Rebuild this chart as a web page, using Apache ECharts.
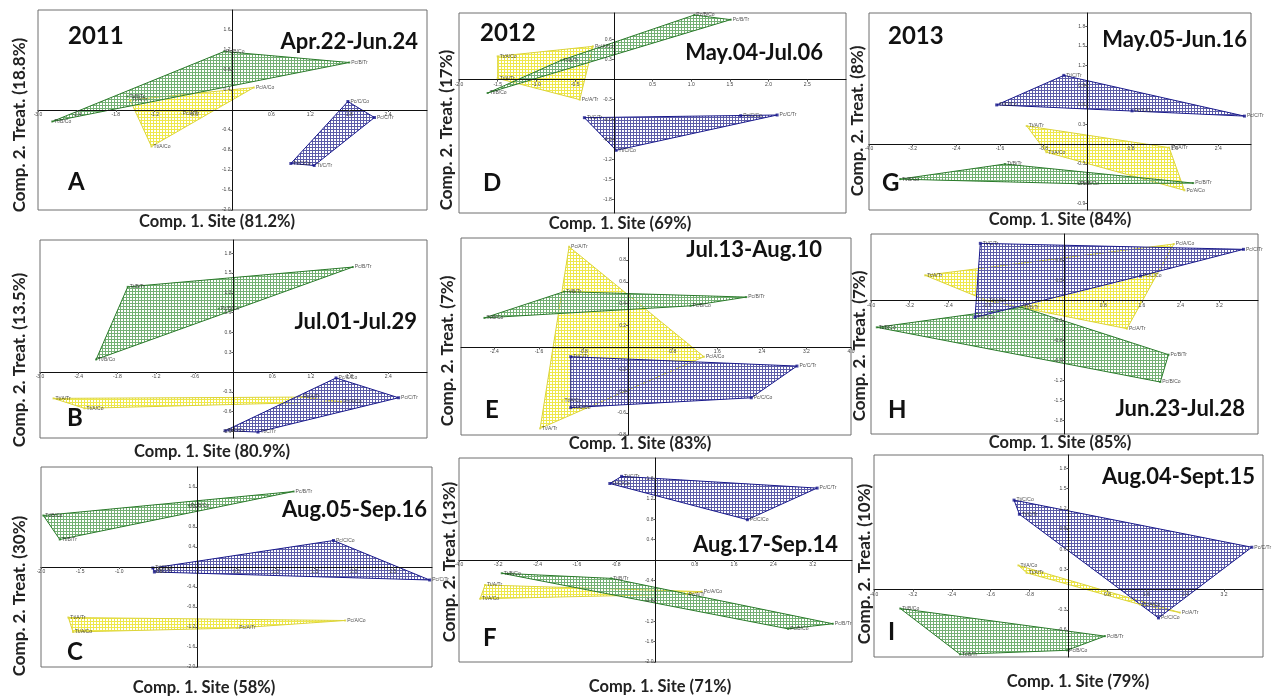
<!DOCTYPE html>
<html><head><meta charset="utf-8">
<script src="https://cdn.jsdelivr.net/npm/echarts@6/dist/echarts.min.js"></script>
<style>html,body{margin:0;padding:0;background:#fff}#c{width:1272px;height:698px}</style>
</head><body><div id="c"></div>
<script>
// ---------------- DATA ----------------
const panelIds = ['A','B','C','D','E','F','G','H','I'];
const yearLabels = ['2011','','','2012','','','2013','',''];
const periodLabels = ['Apr.22-Jun.24','Jul.01-Jul.29','Aug.05-Sep.16','May.04-Jul.06','Jul.13-Aug.10','Aug.17-Sep.14','May.05-Jun.16','Jun.23-Jul.28','Aug.04-Sept.15'];
const siteVar = ['81.2%','80.9%','58%','69%','83%','71%','84%','85%','79%'];
const treatVar = ['18.8%','13.5%','30%','17%','7%','13%','8%','7%','10%'];
const xRange = [[-3,3],[-3,3],[-2,3],[-2,3],[-3,4],[-4,4],[-4,3],[-4,4],[-4,4]];
const yRange = [[-2,2],[-1,2],[-2,2],[-2,1],[-0.8,1],[-2,2],[-1,2],[-2,1],[-1,2]];
const xTicks = [
  [-3.0,-2.4,-1.8,-1.2,-0.6,0.6,1.2,1.8,2.4],
  [-3.0,-2.4,-1.8,-1.2,-0.6,0.6,1.2,1.8,2.4],
  [-2.0,-1.5,-1.0,-0.5,0.5,1.0,1.5,2.0,2.5],
  [-2.0,-1.5,-1.0,-0.5,0.5,1.0,1.5,2.0,2.5],
  [-2.4,-1.6,-0.8,0.8,1.6,2.4,3.2,4.0],
  [-4.0,-3.2,-2.4,-1.6,-0.8,0.8,1.6,2.4,3.2],
  [-4.0,-3.2,-2.4,-1.6,-0.8,0.8,1.6,2.4],
  [-4.0,-3.2,-2.4,-1.6,-0.8,0.8,1.6,2.4,3.2],
  [-4.0,-3.2,-2.4,-1.6,-0.8,0.8,1.6,2.4,3.2]
];
const yTicks = [
  [1.6,1.2,0.8,0.4,-0.4,-0.8,-1.2,-1.6,-2.0],
  [1.8,1.5,1.2,0.9,0.6,0.3,-0.3,-0.6,-0.9],
  [1.6,1.2,0.8,0.4,-0.4,-0.8,-1.2,-1.6,-2.0],
  [0.6,0.3,-0.3,-0.6,-0.9,-1.2,-1.5,-1.8],
  [0.8,0.6,0.4,0.2,-0.2,-0.4,-0.6,-0.8],
  [1.6,1.2,0.8,0.4,-0.4,-0.8,-1.2,-1.6,-2.0],
  [1.8,1.5,1.2,0.9,0.6,0.3,-0.3,-0.6,-0.9],
  [0.6,0.3,-0.3,-0.6,-0.9,-1.2,-1.5,-1.8],
  [1.8,1.5,1.2,0.9,0.6,0.3,-0.3,-0.6]
];
// point order in every group: Tt/?/Co, Tt/?/Tr, Pc/?/Co, Pc/?/Tr
const pointNames = ['Tt/{g}/Co','Tt/{g}/Tr','Pc/{g}/Co','Pc/{g}/Tr'];
const groupNames = ['A','B','C'];
// Panel A (2011, Apr.22-Jun.24)
const A_grpA = [[-1.25,-0.73],[-1.58,0.20],[0.33,0.45],[-0.80,-0.08]];
const A_grpB = [[-2.78,-0.23],[-1.62,0.27],[-0.13,1.17],[1.80,0.95]];
const A_grpC = [[0.90,-1.07],[1.26,-1.11],[1.78,0.17],[2.19,-0.15]];
// Panel B (2011, Jul.01-Jul.29)
const B_grpA = [[-2.31,-0.55],[-2.79,-0.40],[1.67,-0.45],[1.05,-0.38]];
const B_grpB = [[-2.13,0.19],[-1.64,1.29],[-0.23,0.96],[1.85,1.59]];
const B_grpC = [[-0.13,-0.89],[0.38,-0.91],[1.59,-0.09],[2.56,-0.39]];
// Panel C (2011, Aug.05-Sep.16)
const C_grpA = [[-1.59,-1.30],[-1.65,-1.01],[1.89,-1.07],[0.51,-1.22]];
const C_grpB = [[-1.97,1.03],[-1.76,0.55],[-0.11,1.23],[1.23,1.51]];
const C_grpC = [[-0.57,-0.02],[-0.55,-0.10],[1.74,0.53],[2.97,-0.26]];
// Panel D (2012, May.04-Jul.06)
const D_grpA = [[-1.50,0.35],[-1.50,0.02],[-0.27,0.50],[-0.44,-0.30]];
const D_grpB = [[-1.63,-0.20],[-0.68,0.29],[1.04,0.97],[1.51,0.90]];
const D_grpC = [[0.03,-1.06],[-0.38,-0.57],[1.64,-0.54],[2.11,-0.53]];
// Panel E (2012, Jul.13-Aug.10)
const E_grpA = [[-1.18,-0.49],[-1.58,-0.74],[1.36,-0.085],[-1.06,0.92]];
const E_grpB = [[-2.58,0.27],[-1.15,0.51],[1.12,0.38],[2.12,0.46]];
const E_grpC = [[-1.03,-0.55],[-1.03,-0.085],[2.21,-0.46],[3.03,-0.17]];
// Panel F (2012, Aug.17-Sep.14)
const F_grpA = [[-3.57,-0.76],[-3.47,-0.49],[0.94,-0.62],[0.63,-0.67]];
const F_grpB = [[-3.13,-0.26],[-0.90,-0.36],[2.70,-1.35],[3.61,-1.25]];
const F_grpC = [[-0.93,1.50],[-0.69,1.64],[1.87,0.79],[3.29,1.41]];
// Panel G (2013, May.05-Jun.16)
const G_grpA = [[-0.75,-0.12],[-1.11,0.28],[1.78,-0.70],[1.50,-0.05]];
const G_grpB = [[-3.43,-0.53],[-1.51,-0.30],[-0.16,-0.60],[1.94,-0.59]];
const G_grpC = [[-1.66,0.60],[-0.43,1.05],[0.82,0.51],[2.88,0.43]];
// Panel H (2013, Jun.23-Jul.28)
const H_grpA = [[-1.60,0.00],[-2.88,0.38],[2.26,0.85],[1.29,-0.42]];
const H_grpB = [[-3.88,-0.40],[-0.88,-0.10],[1.98,-1.22],[2.15,-0.81]];
const H_grpC = [[-1.85,-0.25],[-1.74,0.86],[1.57,0.37],[3.70,0.77]];
// Panel I (2013, Aug.04-Sept.15)
const I_grpA = [[-1.03,0.36],[-0.86,0.25],[1.47,-0.22],[2.29,-0.34]];
const I_grpB = [[-3.46,-0.28],[-2.23,-0.96],[-0.03,-0.90],[0.75,-0.69]];
const I_grpC = [[-1.12,1.33],[-1.01,1.12],[1.85,-0.42],[3.77,0.63]];

const panelGroups = [
  [A_grpA,A_grpB,A_grpC],[B_grpA,B_grpB,B_grpC],[C_grpA,C_grpB,C_grpC],
  [D_grpA,D_grpB,D_grpC],[E_grpA,E_grpB,E_grpC],[F_grpA,F_grpB,F_grpC],
  [G_grpA,G_grpB,G_grpC],[H_grpA,H_grpB,H_grpC],[I_grpA,I_grpB,I_grpC]
];

// ---------------- LAYOUT / STYLE ----------------
const boxes = [ // left, top, width, height
  [38,10,389,200],[40,240,387,198],[41,467,391,200],
  [459,13,387,200],[461,238,390,197],[459,458,393,204],
  [869,13,382,197],[871,234,387,200],[874,455,389,202]
];
const yearPos = [[68,36],null,null,[480,33],null,null,[888,36],null,null];
const periodPos = [[418,42],[417,322],[427,510],[823,53],[822,250],[838,545],[1247,40],[1245,409],[1255,477]];
const letterPos = [[68,182],[67,418],[67,652],[483,183],[485,410],[483,638],[882,183],[888,410],[888,632]];
const xTitlePos = [[217,222],[212,452],[204,688],[620,224],[640,444],[660,687],[1060,220],[1060,443],[1078,682]];
const yTitlePos = [[20,125],[20,360],[20,596],[447,130],[448,351],[450,562],[858,121],[860,346],[865,564]];

const lineColors = ['#dcd43a','#2a7a2a','#1a1a8c'];
const patternColors = ['#eee84a','#74b074','#5c5ca8'];

function makePattern(color){
  const c = document.createElement('canvas');
  c.width = 3; c.height = 3;
  const ctx = c.getContext('2d');
  ctx.fillStyle = color;
  ctx.fillRect(0,0,3,1);
  ctx.fillRect(0,0,1,3);
  return {image: c, repeat: 'repeat'};
}
const patterns = patternColors.map(makePattern);

function hull(pts){
  const p = pts.map(q=>q.slice()).sort((a,b)=>a[0]-b[0]||a[1]-b[1]);
  const cross=(o,a,b)=>(a[0]-o[0])*(b[1]-o[1])-(a[1]-o[1])*(b[0]-o[0]);
  const lo=[],up=[];
  for(const q of p){while(lo.length>=2&&cross(lo[lo.length-2],lo[lo.length-1],q)<=0)lo.pop();lo.push(q);}
  for(let i=p.length-1;i>=0;i--){const q=p[i];while(up.length>=2&&cross(up[up.length-2],up[up.length-1],q)<=0)up.pop();up.push(q);}
  lo.pop();up.pop();return lo.concat(up);
}

const grids=[],xAxes=[],yAxes=[],series=[],graphics=[];
const FONT = 'Lato, "Open Sans", sans-serif';
panelIds.forEach((id,i)=>{
  const b = boxes[i];
  grids.push({left:b[0],top:b[1],width:b[2],height:b[3],show:true,borderColor:'#6e6e6e',borderWidth:1,backgroundColor:'transparent'});
  const lab = {fontSize:5,color:'#444',margin:2,formatter:v=>v.toFixed(1),fontFamily:'Arial',hideOverlap:false};
  // place the axes on the zero lines (axes cross at the origin)
  const xOff = -((0 - yRange[i][0])/(yRange[i][1]-yRange[i][0]))*b[3];
  const yOff = -((0 - xRange[i][0])/(xRange[i][1]-xRange[i][0]))*b[2];
  xAxes.push({type:'value',gridIndex:i,min:xRange[i][0],max:xRange[i][1],position:'bottom',offset:xOff,zlevel:1,z:10,
    axisLine:{onZero:false,lineStyle:{color:'#111',width:1}},
    axisTick:{show:true,length:2,customValues:xTicks[i],lineStyle:{color:'#555'}},
    axisLabel:Object.assign({customValues:xTicks[i]},lab),splitLine:{show:false}});
  yAxes.push({type:'value',gridIndex:i,min:yRange[i][0],max:yRange[i][1],position:'left',offset:yOff,zlevel:1,z:10,
    axisLine:{onZero:false,lineStyle:{color:'#111',width:1}},
    axisTick:{show:true,length:2,customValues:yTicks[i],lineStyle:{color:'#555'}},
    axisLabel:Object.assign({customValues:yTicks[i]},lab),splitLine:{show:false}});
  panelGroups[i].forEach((pts,g)=>{
    series.push({type:'custom',xAxisIndex:i,yAxisIndex:i,data:pts,silent:true,z:2+g,
      renderItem:(params,api)=>{
        if(params.dataIndex!==0) return;
        const poly = hull(pts).map(p=>api.coord(p));
        return {type:'polygon',shape:{points:poly},style:{fill:patterns[g],stroke:lineColors[g],lineWidth:1}};
      }});
    series.push({type:'scatter',xAxisIndex:i,yAxisIndex:i,z:6,silent:true,
      data:pts.map((p,k)=>({value:p,name:pointNames[k].replace('{g}',groupNames[g])})),
      symbol:'rect',symbolSize:g===2?3:2,itemStyle:{color:lineColors[g]},
      label:{show:true,position:'right',distance:1,formatter:'{b}',fontSize:5,color:'#222',fontFamily:'Arial'}});
  });
  if(yearLabels[i]) graphics.push({type:'text',x:yearPos[i][0],y:yearPos[i][1],z:100,
    style:{text:yearLabels[i],font:'bold 24px '+FONT,fill:'#111',textVerticalAlign:'middle'}});
  graphics.push({type:'text',x:periodPos[i][0],y:periodPos[i][1],z:100,
    style:{text:periodLabels[i],font:'bold 22px '+FONT,fill:'#111',textAlign:'right',textVerticalAlign:'middle'}});
  graphics.push({type:'text',x:letterPos[i][0],y:letterPos[i][1],z:100,
    style:{text:id,font:'bold 24px '+FONT,fill:'#111',textVerticalAlign:'middle'}});
  graphics.push({type:'text',x:xTitlePos[i][0],y:xTitlePos[i][1],z:100,
    style:{text:'Comp. 1. Site ('+siteVar[i]+')',font:'bold 16.5px '+FONT,fill:'#222',textAlign:'center',textVerticalAlign:'middle'}});
  graphics.push({type:'text',x:yTitlePos[i][0],y:yTitlePos[i][1],rotation:Math.PI/2,z:100,
    style:{text:'Comp. 2. Treat. ('+treatVar[i]+')',font:'bold 17px '+FONT,fill:'#222',textAlign:'center',textVerticalAlign:'middle'}});
});

const chart = echarts.init(document.getElementById('c'));
chart.setOption({animation:false,grid:grids,xAxis:xAxes,yAxis:yAxes,series:series,graphic:graphics});
</script></body></html>
